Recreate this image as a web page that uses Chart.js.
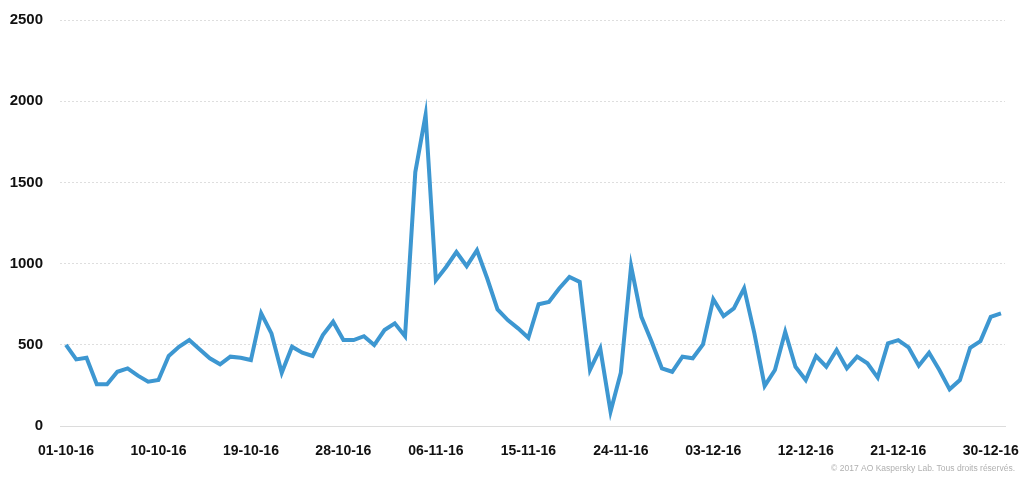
<!DOCTYPE html>
<html>
<head>
<meta charset="utf-8">
<script src="https://cdn.jsdelivr.net/npm/chart.js@4/dist/chart.umd.min.js"></script>
<style>
  html, body { margin: 0; padding: 0; background: #fff; }
  #wrap { width: 1024px; height: 479px; }
</style>
</head>
<body>
<div id="wrap"><canvas id="chart"></canvas></div>
<script>
// one value per day, 01-10-16 .. 31-12-16
const values = [
  501, 411, 421, 258, 258, 335, 356, 311, 274, 284,
  432, 489, 530, 473, 418, 381, 428, 421, 407, 694,
  571, 329, 489, 452, 432, 561, 643, 530, 530, 554,
  499, 592, 633, 554, 1564, 1916, 899, 980, 1072, 985,
  1083, 909, 719, 653, 602, 544, 751, 765, 848, 919,
  888, 346, 479, 90, 329, 985, 673, 520, 356, 335,
  428, 418, 504, 782, 678, 725, 848, 571, 248, 346,
  581, 366, 284, 432, 366, 469, 356, 428, 387, 299,
  510, 530, 485, 372, 452, 346, 227, 284, 483, 524,
  673, 694
];
const tickLabels = [
  '01-10-16', '10-10-16', '19-10-16', '28-10-16', '06-11-16', '15-11-16',
  '24-11-16', '03-12-16', '12-12-16', '21-12-16', '30-12-16'
];
const tickStep = 9;
const yTicks = [0, 500, 1000, 1500, 2000, 2500];
const copyright = '\u00A9 2017 AO Kaspersky Lab. Tous droits r\u00E9serv\u00E9s.';

const xFont = { family: '"Liberation Sans", Arial, sans-serif', size: 14, weight: 'bold' };
const yFont = { family: '"Liberation Sans", Arial, sans-serif', size: 15, weight: 'bold' };

const points = values.map((v, i) => ({ x: i, y: v }));

const copyrightPlugin = {
  id: 'copyright',
  afterDraw: (chart) => {
    const ctx = chart.ctx;
    ctx.save();
    ctx.font = '8.5px "Liberation Sans", Arial, sans-serif';
    ctx.fillStyle = '#b0b0b0';
    ctx.textAlign = 'right';
    ctx.textBaseline = 'middle';
    ctx.fillText(copyright, chart.width - 9, chart.height - 10);
    ctx.restore();
  }
};

new Chart(document.getElementById('chart'), {
  type: 'line',
  data: {
    datasets: [{
      data: points,
      borderColor: '#3d97d1',
      borderWidth: 4,
      pointRadius: 0,
      tension: 0,
      fill: false,
    }],
  },
  options: {
    responsive: true,
    maintainAspectRatio: false,
    animation: false,
    layout: {
      padding: { top: 20, right: 19, bottom: 2, left: 0 },
    },
    plugins: {
      legend: { display: false },
      tooltip: { enabled: false },
    },
    scales: {
      x: {
        type: 'linear',
        min: -0.58,
        max: values.length - 1 + 0.39,
        afterBuildTicks: (scale) => {
          scale.ticks = tickLabels.map((t, i) => ({ value: i * tickStep }));
        },
        afterFit: (scale) => {
          scale.paddingLeft = 0;
          scale.paddingRight = 0;
        },
        ticks: {
          autoSkip: false,
          maxRotation: 0,
          padding: 17,
          color: '#111',
          font: xFont,
          callback: (value) => tickLabels[Math.round(value / tickStep)] || '',
        },
        grid: { display: false, drawTicks: false },
        border: { display: true, color: '#dcdcdc', width: 1 },
      },
      y: {
        min: 0,
        max: 2500,
        afterBuildTicks: (scale) => {
          scale.ticks = yTicks.map((v) => ({ value: v }));
        },
        afterFit: (scale) => {
          scale.width = 60;
          scale.paddingTop = 0;
          scale.paddingBottom = 0;
        },
        ticks: {
          padding: 17,
          color: '#111',
          font: yFont,
          callback: (value) => String(value),
        },
        grid: {
          drawTicks: false,
          color: (c) => (c.tick && c.tick.value === 0 ? 'rgba(0,0,0,0)' : '#dedede'),
          lineWidth: 1,
        },
        border: { display: false, dash: [2, 2] },
      },
    },
  },
  plugins: [copyrightPlugin],
});
</script>
</body>
</html>
